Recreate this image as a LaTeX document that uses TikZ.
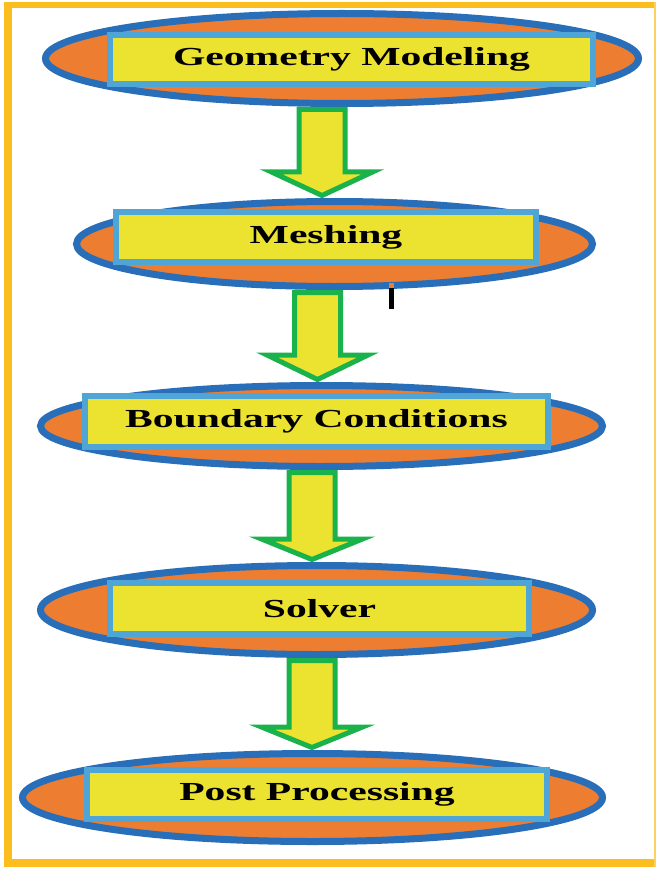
\documentclass[tikz,border=0pt]{standalone}
\usepackage{fontspec}
\newfontfamily\lblfont[FakeStretch=1.6]{Liberation Serif}
\usetikzlibrary{shapes.geometric,calc}

\definecolor{framegold}{RGB}{252,190,30}
\definecolor{ellorange}{RGB}{237,125,49}
\definecolor{ellblue}{RGB}{40,110,185}
\definecolor{boxblue}{RGB}{80,165,215}
\definecolor{boxyellow}{RGB}{236,226,48}
\definecolor{arrowgreen}{RGB}{25,178,75}

\tikzset{
  stage/.style={ellipse, draw=ellblue, fill=ellorange, line width=7pt, inner sep=0pt},
  stagebox/.style={rectangle, draw=boxblue, fill=boxyellow, line width=6pt, inner sep=0pt,
    font=\lblfont\bfseries\fontsize{26}{30}\selectfont, text=black},
  flowarrow/.style={draw=arrowgreen, fill=boxyellow, line width=5pt, line join=miter},
}

% block arrow: #1 x centre (px), #2 upper stage, #3 lower stage, #4 head length above lower stage
\newcommand\flowarrow[4]{%
  \draw[flowarrow] let \p1=(#2.south), \p2=(#3.north) in
    ({(#1-23)*1pt},{\y1-2.5pt}) -- ({(#1+23)*1pt},{\y1-2.5pt})
    -- ({(#1+23)*1pt},{\y2+#4*1pt}) -- ({(#1+50.5)*1pt},{\y2+#4*1pt})
    -- ({#1*1pt},{\y2+2.5pt})
    -- ({(#1-50.5)*1pt},{\y2+#4*1pt}) -- ({(#1-23)*1pt},{\y2+#4*1pt}) -- cycle;}

\begin{document}
\begin{tikzpicture}[x=1pt,y=-1pt]
\useasboundingbox (0,0) rectangle (658,869);
\fill[white] (0,0) rectangle (658,869);

% outer frame
\fill[framegold] (4,2) rectangle (656,8);
\fill[framegold] (4,2) rectangle (12,867);
\fill[framegold] (4,859) rectangle (656,867);
\draw[framegold!70, line width=1.5pt] (655,2) -- (655,867);

% stages
\node[stage, minimum width=593pt, minimum height=90pt] (e1) at (342,58.5) {};
\node[stage, minimum width=516pt, minimum height=85pt] (e2) at (334.5,244) {};
\node[stage, minimum width=562pt, minimum height=81pt] (e3) at (321.5,426) {};
\node[stage, minimum width=552pt, minimum height=89pt] (e4) at (316.5,610) {};
\node[stage, minimum width=580pt, minimum height=88pt] (e5) at (312.5,797.5) {};

\node[stagebox, minimum width=483pt, minimum height=49pt] (b1) at (351.5,59.5) {Geometry Modeling};
\node[stagebox, minimum width=420pt, minimum height=50pt] (b2) at (326,237) {Meshing};
\node[stagebox, minimum width=463pt, minimum height=51pt] (b3) at (316.5,421.5) {Boundary Conditions};
\node[stagebox, minimum width=419pt, minimum height=51pt] (b4) at (319.5,608.5) {Solver};
\node[stagebox, minimum width=460pt, minimum height=49pt] (b5) at (317,794.5) {Post Processing};

% flow arrows
\flowarrow{322}{e1}{e2}{26}
\flowarrow{317.5}{e2}{e3}{27}
\flowarrow{312}{e3}{e4}{23}
\flowarrow{312}{e4}{e5}{23}

% small stray tick below the meshing stage
\fill[ellorange] (389,283) rectangle (394,288);
\fill[black] (389,288) rectangle (394,309);
\end{tikzpicture}
\end{document}
